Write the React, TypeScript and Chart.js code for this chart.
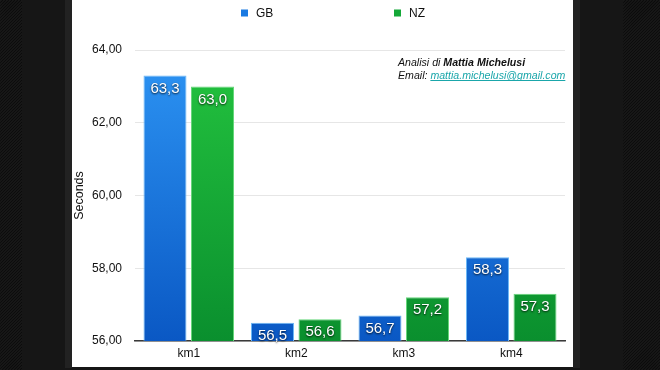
import React, { useEffect, useRef } from "react";
import { Chart, registerables } from "chart.js";

Chart.register(...registerables);

const categories = ["km1", "km2", "km3", "km4"];
const gbValues = [63.3, 56.5, 56.7, 58.3];
const nzValues = [63.0, 56.6, 57.2, 57.3];
const seriesNames = ["GB", "NZ"];
const yTicks = [56, 58, 60, 62, 64];
const yAxisTitle = "Seconds";
const noteLine1Prefix = "Analisi di ";
const noteLine1Name = "Mattia Michelusi";
const noteLine2Prefix = "Email: ";
const noteLine2Mail = "mattia.michelusi@gmail.com";

const FONT = "'Liberation Sans', Arial, Helvetica, sans-serif";

const blueTop = "#2d95f4";
const blueBottom = "#0a58c4";
const greenTop = "#24c43f";
const greenBottom = "#0a8f2e";

function makeGradient(chart: any, top: string, bottom: string) {
  const { ctx, chartArea } = chart;
  if (!chartArea) return top;
  const g = ctx.createLinearGradient(0, chartArea.top, 0, chartArea.bottom);
  g.addColorStop(0, top);
  g.addColorStop(1, bottom);
  return g;
}

const backgroundPlugin = {
  id: "pageBackground",
  beforeDraw(chart: any) {
    const ctx = chart.ctx;
    const W = chart.width;
    const H = chart.height;
    ctx.save();
    ctx.fillStyle = "#161616";
    ctx.fillRect(0, 0, W, H);
    const drawStripes = (x0: number, x1: number) => {
      ctx.save();
      ctx.beginPath();
      ctx.rect(x0, 0, x1 - x0, H);
      ctx.clip();
      ctx.fillStyle = "#1c1c1c";
      ctx.fillRect(x0, 0, x1 - x0, H);
      ctx.strokeStyle = "#0c0c0c";
      ctx.lineWidth = 1.2;
      for (let k = -H; k < x1 - x0 + H; k += 3) {
        ctx.beginPath();
        ctx.moveTo(x0 + k, H);
        ctx.lineTo(x0 + k + H, 0);
        ctx.stroke();
      }
      ctx.restore();
    };
    drawStripes(0, 22);
    drawStripes(623, W);
    ctx.fillStyle = "#222222";
    ctx.fillRect(65, 0, 7, 368);
    ctx.fillRect(573, 0, 7, 368);
    ctx.fillStyle = "#ffffff";
    ctx.fillRect(72, 0, 501, 367);
    ctx.restore();
  },
};

const legendPlugin = {
  id: "customLegend",
  afterDraw(chart: any) {
    const ctx = chart.ctx;
    const positions = [241, 394];
    ctx.save();
    ctx.font = `12px ${FONT}`;
    ctx.textBaseline = "middle";
    chart.data.datasets.forEach((ds: any, i: number) => {
      const x = positions[i];
      const y = 13;
      ctx.fillStyle = i === 0 ? "#1a7ae2" : "#14a838";
      ctx.fillRect(x, y - 3.5, 7, 7);
      ctx.fillStyle = "#111";
      ctx.fillText(ds.label, x + 15, y + 0.5);
    });
    ctx.restore();
  },
};

const notePlugin = {
  id: "note",
  afterDraw(chart: any) {
    const ctx = chart.ctx;
    ctx.save();
    ctx.textBaseline = "alphabetic";
    const size = 10.6;
    let x = 398;
    ctx.fillStyle = "#111";
    ctx.font = `italic ${size}px ${FONT}`;
    ctx.fillText(noteLine1Prefix, x, 66);
    x += ctx.measureText(noteLine1Prefix).width;
    ctx.font = `italic bold ${size}px ${FONT}`;
    ctx.fillText(noteLine1Name, x, 66);
    x = 398;
    ctx.font = `italic ${size}px ${FONT}`;
    ctx.fillText(noteLine2Prefix, x, 78.5);
    x += ctx.measureText(noteLine2Prefix).width;
    ctx.fillStyle = "#1aa6aa";
    ctx.fillText(noteLine2Mail, x, 78.5);
    const w = ctx.measureText(noteLine2Mail).width;
    ctx.strokeStyle = "#1aa6aa";
    ctx.lineWidth = 1;
    ctx.beginPath();
    ctx.moveTo(x, 80.5);
    ctx.lineTo(x + w, 80.5);
    ctx.stroke();
    ctx.restore();
  },
};

const valueLabelPlugin = {
  id: "valueLabels",
  afterDatasetsDraw(chart: any) {
    const ctx = chart.ctx;
    ctx.save();
    ctx.font = `15px ${FONT}`;
    ctx.textAlign = "center";
    ctx.textBaseline = "middle";
    chart.data.datasets.forEach((ds: any, i: number) => {
      const meta = chart.getDatasetMeta(i);
      meta.data.forEach((el: any, j: number) => {
        const v = ds.data[j] as number;
        const txt = v.toFixed(1).replace(".", ",");
        ctx.shadowColor = "rgba(0,0,0,0.85)";
        ctx.shadowBlur = 2;
        ctx.shadowOffsetX = 0;
        ctx.shadowOffsetY = 1;
        ctx.fillStyle = "#ffffff";
        ctx.fillText(txt, el.x, el.y + 13);
      });
    });
    ctx.restore();
  },
};

export default function App() {
  const ref = useRef<HTMLCanvasElement>(null);
  useEffect(() => {
    if (!ref.current) return;
    const chart = new Chart(ref.current, {
      type: "bar",
      data: {
        labels: categories,
        datasets: [
          {
            label: seriesNames[0],
            data: gbValues,
            backgroundColor: (c: any) => makeGradient(c.chart, blueTop, blueBottom),
            borderColor: "#6cb8f6",
            borderWidth: { top: 1, left: 1, right: 1, bottom: 0 },
            barPercentage: 0.905,
            categoryPercentage: 0.884,
          },
          {
            label: seriesNames[1],
            data: nzValues,
            backgroundColor: (c: any) => makeGradient(c.chart, greenTop, greenBottom),
            borderColor: "#66d67a",
            borderWidth: { top: 1, left: 1, right: 1, bottom: 0 },
            barPercentage: 0.905,
            categoryPercentage: 0.884,
          },
        ],
      },
      options: {
        responsive: false,
        animation: false,
        devicePixelRatio: 1,
        layout: { padding: { left: 72, right: 95, top: 50, bottom: 9 } },
        plugins: {
          legend: { display: false },
          tooltip: { enabled: false },
          title: { display: false },
        },
        scales: {
          x: {
            grid: { display: false, drawTicks: false },
            border: { display: true, color: "#3a3a3a", width: 1.5 },
            ticks: { color: "#111", font: { family: FONT, size: 12 }, padding: 5 },
            afterFit: (s: any) => {
              s.height = 20;
            },
          },
          y: {
            min: 56,
            max: 64,
            afterBuildTicks: (s: any) => {
              s.ticks = yTicks.map((v) => ({ value: v }));
            },
            grid: { color: "#e6e6e6", drawTicks: false, lineWidth: 1 },
            border: { display: false },
            ticks: {
              color: "#111",
              font: { family: FONT, size: 12 },
              padding: 13,
              callback: (v: any) => Number(v).toFixed(2).replace(".", ","),
            },
            title: {
              display: true,
              text: yAxisTitle,
              color: "#111",
              font: { family: FONT, size: 12.5 },
              padding: { top: 0, bottom: 0 },
            },
            afterFit: (s: any) => {
              s.width = 63;
            },
          },
        },
      },
      plugins: [backgroundPlugin, legendPlugin, notePlugin, valueLabelPlugin],
    } as any);
    return () => chart.destroy();
  }, []);
  return (
    <div style={{ position: "fixed", left: 0, top: 0, width: 660, height: 370 }}>
      <canvas ref={ref} width={660} height={370} style={{ display: "block" }} />
    </div>
  );
}
